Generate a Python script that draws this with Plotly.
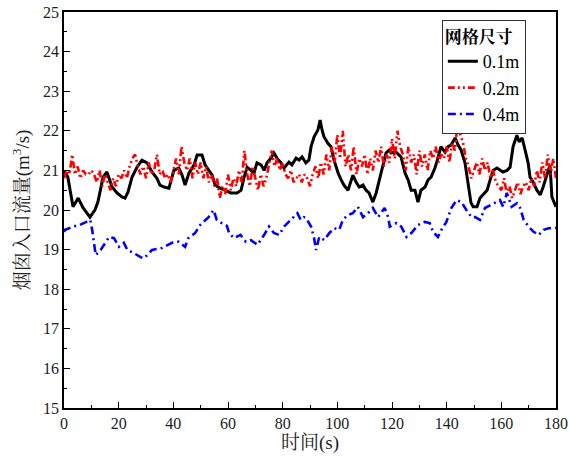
import plotly.graph_objects as go

# ---- data ----
t_black = [0, 1.4, 3.3, 5.2, 7, 9.5, 11.3, 12.4, 14.3, 15.7, 17.6, 19.4, 21.2, 22.3, 23.4, 24.9, 26.7, 28.5,
           30.4, 32.2, 34, 35.1, 36.6, 38.4, 40.2, 42, 43.2, 44.3, 45.7, 47.6, 48.7, 50.5, 51.6, 53, 54.2,
           55.3, 57.1, 58.9, 61, 63.3, 64.8, 65.9, 67, 68.4, 69.5, 70.6, 72.1, 73.2, 74.3, 75.7, 76.8, 77.9,
           79.4, 80.5, 82.3, 83.4, 84.9, 86, 87.1, 88.5, 89.6, 90.4, 91.5, 92.9, 93.7, 94.4, 95.1, 96.6,
           97.7, 98.8, 100.3, 101.4, 102.4, 103.9, 105, 105.7, 106.8, 108, 109.4, 110.5, 111.6, 113, 114.2,
           115.3, 116.7, 117.8, 118.9, 119.6, 121.5, 123.3, 124.8, 125.9, 127, 128.4, 129.5, 130.6, 132.1,
           133.2, 134.3, 135.7, 136.8, 137.9, 139.4, 140.5, 141.6, 143.1, 144.2, 145.3, 146.7, 147.8, 148.9,
           149.7, 151.1, 152.2, 153.3, 154.8, 155.9, 157, 158.4, 159.5, 160.6, 162.1, 163.2, 164.3, 165.7,
           166.5, 167.6, 168.7, 169.8, 170.5, 171.6, 173, 174.2, 175.3, 176.7, 177.8, 178.5, 180]
v_black = [21.0, 20.83, 20.08, 20.3, 20.05, 19.82, 20.0, 20.2, 20.83, 20.96, 20.58, 20.43, 20.33, 20.3, 20.45,
           20.83, 21.08, 21.26, 21.19, 20.96, 20.8, 20.63, 20.58, 20.55, 21.0, 21.06, 20.88, 20.63, 20.93,
           21.14, 21.39, 21.39, 21.14, 21.0, 20.88, 20.63, 20.55, 20.5, 20.43, 20.43, 20.5, 20.83, 21.08,
           21.0, 20.93, 21.19, 21.14, 21.0, 21.19, 21.31, 21.44, 21.31, 21.19, 21.06, 21.21, 21.14, 21.31,
           21.26, 21.34, 21.19, 21.26, 21.6, 21.85, 22.02, 22.27, 22.02, 21.85, 21.68, 21.6, 21.26, 20.93,
           20.76, 20.63, 20.5, 20.71, 20.88, 20.71, 20.58, 20.63, 20.5, 20.43, 20.2, 20.43, 20.76, 21.19,
           21.44, 21.51, 21.44, 21.46, 21.34, 20.93, 20.76, 20.5, 20.5, 20.2, 20.5, 20.58, 20.76, 20.83,
           21.06, 21.31, 21.6, 21.46, 21.6, 21.64, 21.82, 21.64, 21.51, 21.19, 20.68, 20.18, 20.08, 20.08,
           20.3, 20.38, 20.5, 20.76, 21.0, 21.06, 21.0, 20.96, 21.0, 21.08, 21.6, 21.89, 21.72, 21.82, 21.51,
           21.19, 20.83, 20.71, 20.5, 20.38, 20.58, 20.93, 21.14, 20.33, 20.08]

t_red = list(range(0, 181))
v_red = [20.8, 21.0, 20.9, 21.4, 20.9, 21.1, 20.8, 21.0, 20.9, 20.9,
         21.0, 20.9, 20.7, 21.0, 20.6, 20.9, 20.7, 20.5, 20.8, 20.6,
         20.9, 20.8, 21.0, 20.8, 21.1, 21.3, 21.4, 21.1, 20.9, 21.1,
         20.8, 21.2, 20.9, 21.0, 21.4, 20.9, 21.0, 20.8, 20.9, 20.7,
         21.0, 21.3, 20.9, 21.6, 21.2, 21.0, 21.3, 20.8, 21.2, 20.9,
         21.2, 20.8, 21.1, 20.7, 20.9, 20.6, 20.8, 20.3, 20.6, 20.4,
         20.9, 20.5, 20.8, 20.6, 21.0, 20.7, 21.5, 20.9, 20.6, 21.1,
         20.8, 20.5, 20.9, 20.6, 20.8, 21.2, 21.5, 21.1, 21.3, 21.0,
         21.2, 20.9, 20.8, 21.0, 20.7, 20.8, 20.9, 20.7, 20.9, 20.8,
         20.6, 20.9, 21.1, 20.8, 21.2, 20.9, 21.4, 21.0, 21.6, 21.2,
         21.9, 21.3, 22.0, 21.1, 21.4, 21.0, 21.6, 20.9, 21.3, 21.1,
         21.4, 20.9, 21.3, 21.0, 21.5, 21.2, 21.6, 21.1, 21.4, 21.2,
         21.8, 21.3, 22.0, 21.6, 21.4, 21.0, 21.6, 21.2, 21.4, 20.9,
         21.5, 21.1, 21.4, 21.0, 21.5, 21.3, 21.6, 21.2, 21.4, 21.3,
         21.6, 21.2, 21.7, 21.5, 22.2, 21.9, 21.7, 21.3, 21.1, 20.8,
         21.0, 21.2, 20.9, 21.3, 21.0, 21.2, 20.8, 21.0, 20.7, 20.6,
         20.5, 20.8, 20.4, 20.6, 20.3, 20.5, 20.7, 20.4, 20.6, 20.7,
         20.5, 20.8, 20.6, 21.0, 20.7, 21.2, 20.8, 21.4, 20.9, 21.3,
         20.8]

t_blue = [0, 0.4, 3.3, 5.7, 8.2, 9.6, 10.3, 11, 11.6, 13.4, 15.2, 16.5, 18.3, 20.1, 21.9, 23.2, 25.6, 28, 29.3,
          32.2, 35.8, 39.5, 41.9, 44.3, 45.5, 48, 49.8, 51.6, 52.9, 54.7, 55.9, 57.7, 59.6, 60.4, 62.2, 64.6,
          66.5, 68.4, 70.8, 73.2, 75, 76.8, 78.7, 80.5, 82.9, 85.4, 86.6, 87.8, 88.5, 89.6, 90.4, 91.5, 92.2,
          93.4, 95.2, 97.1, 98.9, 100.7, 102, 103.8, 105.7, 107.5, 109.4, 111.2, 113, 114.9, 117.3, 118.6,
          119.2, 121.6, 123.4, 125.3, 127.1, 129.5, 131.9, 133.8, 135, 136.8, 138.1, 139.9, 141.7, 143.6,
          145.4, 147.2, 149.1, 150.4, 152.2, 154, 155.9, 157.7, 159.5, 160.7, 162, 163.8, 165.7, 166.9,
          168.2, 170, 171.8, 173.7, 175.5, 177.3, 179.2, 180]
v_blue = [19.45, 19.5, 19.58, 19.62, 19.7, 19.75, 19.5, 19.17, 18.86, 18.99, 19.17, 19.32, 19.29, 19.07, 19.17,
          18.99, 18.91, 18.81, 18.78, 18.99, 19.04, 19.17, 19.2, 19.07, 19.29, 19.42, 19.62, 19.75, 19.82,
          20.0, 19.75, 19.67, 19.6, 19.42, 19.29, 19.37, 19.2, 19.24, 19.12, 19.37, 19.58, 19.42, 19.37,
          19.58, 19.75, 19.92, 19.75, 19.82, 19.8, 19.67, 19.58, 19.29, 18.99, 19.32, 19.24, 19.42, 19.54,
          19.5, 19.75, 19.87, 19.92, 20.08, 19.82, 19.92, 20.05, 19.82, 20.05, 19.82, 19.58, 19.67, 19.58,
          19.32, 19.42, 19.62, 19.7, 19.67, 19.45, 19.32, 19.5, 19.7, 20.05, 20.25, 20.2, 20.0, 19.82,
          19.82, 19.75, 20.05, 20.12, 20.2, 20.25, 20.08, 20.43, 20.08, 20.17, 20.05, 19.75, 19.58, 19.45,
          19.37, 19.5, 19.54, 19.54, 19.55]

series_names = ["0.1m", "0.2m", "0.4m"]
legend_title = "网格尺寸"
x_title = "时间(s)"
y_title = "烟囱入口流量(m<sup>3</sup>/s)"

serif = "Liberation Serif, Times New Roman, Noto Serif CJK SC, Noto Sans CJK SC, serif"

fig = go.Figure()
fig.add_trace(go.Scatter(x=t_black, y=v_black, mode="lines", name=series_names[0],
                         line=dict(color="black", width=3)))
fig.add_trace(go.Scatter(x=t_red, y=v_red, mode="lines", name=series_names[1],
                         line=dict(color="#ff0000", width=2.6, dash="7px,3px,2px,3px,2px,3px")))
fig.add_trace(go.Scatter(x=t_blue, y=v_blue, mode="lines", name=series_names[2],
                         line=dict(color="#0000ff", width=2.6, dash="8px,4px,2px,4px")))

axis_common = dict(showline=True, linecolor="black", linewidth=1.5, mirror=True,
                   ticks="inside", ticklen=6, tickwidth=1.2, tickcolor="black",
                   showgrid=False, zeroline=False, automargin=False,
                   tickfont=dict(family=serif, size=16, color="#222"))

fig.update_xaxes(range=[0, 180], dtick=20, tick0=0,
                 minor=dict(ticks="inside", ticklen=3, dtick=10, tickcolor="black", tickwidth=1),
                 title=dict(text=x_title, font=dict(family=serif, size=19, color="#222"), standoff=4),
                 **axis_common)
fig.update_yaxes(range=[15, 25], dtick=1, tick0=15,
                 minor=dict(ticks="inside", ticklen=3, dtick=0.5, tickcolor="black", tickwidth=1),
                 title=dict(text=y_title, font=dict(family=serif, size=19, color="#222"), standoff=8),
                 **axis_common)

fig.update_layout(
    width=569, height=458,
    margin=dict(l=64, r=13, t=12, b=50),
    plot_bgcolor="white", paper_bgcolor="white",
    legend=dict(x=0.768, y=0.98, xanchor="left", yanchor="top",
                bordercolor="#333", borderwidth=1, bgcolor="white",
                title=dict(text="<b>" + legend_title + "</b>", font=dict(family=serif, size=17, color="black")),
                font=dict(family=serif, size=18, color="black"),
                tracegroupgap=0, itemwidth=30),
)

fig.write_html("out.html")
